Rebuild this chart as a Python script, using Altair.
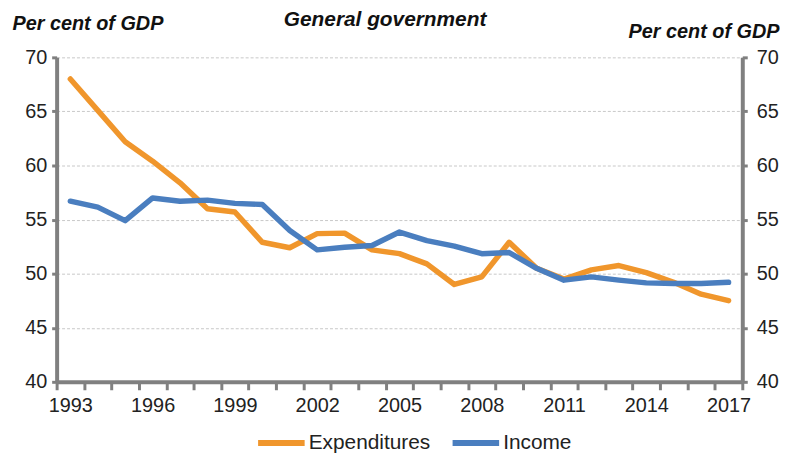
import altair as alt
import pandas as pd

years = list(range(1993, 2018))
expenditures = [68.0, 65.1, 62.2, 60.4, 58.4, 56.0, 55.7, 52.9, 52.4, 53.7, 53.75, 52.2, 51.85,
                50.9, 49.0, 49.7, 52.9, 50.5, 49.5, 50.35, 50.75, 50.1, 49.2, 48.1, 47.5]
income = [56.7, 56.15, 54.9, 57.0, 56.7, 56.8, 56.5, 56.4, 54.0, 52.2, 52.45, 52.6, 53.85,
          53.05, 52.55, 51.85, 51.95, 50.5, 49.4, 49.7, 49.4, 49.15, 49.1, 49.1, 49.2]
series_names = ["Expenditures", "Income"]
series_colors = ["#F0962C", "#4A7EBF"]
x_label_years = [1993, 1996, 1999, 2002, 2005, 2008, 2011, 2014, 2017]
x_tick_bounds = [y - 0.5 for y in years] + [years[-1] + 0.5]
y_ticks = [40, 45, 50, 55, 60, 65, 70]

df = pd.DataFrame({
    "year": years * 2,
    "series": ["Expenditures"] * len(years) + ["Income"] * len(years),
    "value": expenditures + income,
})

FONT = "Liberation Sans"
GRAY = "#808080"
xscale = alt.Scale(domain=[years[0] - 0.5, years[-1] + 0.5], nice=False, zero=False)
yscale = alt.Scale(domain=[40, 70], nice=False, zero=False)

lines = alt.Chart(df).mark_line(strokeWidth=5.5, strokeJoin="round", strokeCap="round").encode(
    x=alt.X("year:Q", scale=xscale,
            axis=alt.Axis(values=x_tick_bounds, orient="bottom", labels=False, ticks=True, tickSize=8,
                          tickWidth=3, tickColor=GRAY, domainColor=GRAY, domainWidth=4, grid=False,
                          title=None)),
    y=alt.Y("value:Q", scale=yscale,
            axis=alt.Axis(values=y_ticks, orient="left", tickSize=5, tickWidth=3, tickColor=GRAY,
                          domainColor=GRAY, domainWidth=4, labelFontSize=20, labelFont=FONT,
                          labelColor="#222222", labelPadding=5,
                          grid=True, gridColor="#c8c8c8", gridDash=[3, 2], gridWidth=1,
                          title="Per cent of GDP", titleAngle=0, titleAlign="left",
                          titleBaseline="middle", titleX=-45, titleY=-34, titleFont=FONT,
                          titleFontSize=20, titleFontStyle="italic", titleFontWeight="bold",
                          titleColor="#111111")),
    color=alt.Color("series:N", scale=alt.Scale(domain=series_names, range=series_colors),
                    legend=alt.Legend(orient="none", direction="horizontal", legendX=200, legendY=362,
                                      title=None, symbolType="stroke", symbolSize=2200,
                                      symbolStrokeWidth=6, labelFontSize=21, labelFont=FONT,
                                      labelColor="#222222", labelOffset=1, columnPadding=10)),
)

overlay = alt.Chart(df).mark_line(opacity=0).encode(
    x=alt.X("year:Q", scale=xscale,
            axis=alt.Axis(values=x_label_years, orient="bottom", format="d", ticks=False, domain=False,
                          grid=False, labelFontSize=20, labelFont=FONT, labelColor="#222222",
                          labelPadding=14, title=None)),
    y=alt.Y("value:Q", scale=yscale,
            axis=alt.Axis(values=y_ticks, orient="right", tickSize=5, tickWidth=3, tickColor=GRAY,
                          domainColor=GRAY, domainWidth=4, labelFontSize=20, labelFont=FONT,
                          labelColor="#222222", labelPadding=9, grid=False,
                          title="Per cent of GDP", titleAngle=0, titleAlign="right",
                          titleBaseline="middle", titleX=37, titleY=-26, titleFont=FONT,
                          titleFontSize=20, titleFontStyle="italic", titleFontWeight="bold",
                          titleColor="#111111")),
    detail="series:N",
)

title_txt = alt.Chart(alt.Data(values=[{"t": "General government"}])).mark_text(
    font=FONT, fontSize=21, fontStyle="italic", fontWeight="bold", color="#111111",
    align="center", baseline="middle",
).encode(x=alt.value(331), y=alt.value(-38), text="t:N")

chart = alt.layer(lines, overlay, title_txt).resolve_axis(
    x="independent", y="independent"
).properties(
    width=691, height=327,
    autosize=alt.AutoSizeParams(type="none"),
    padding={"left": 49, "top": 48, "right": 38, "bottom": 70},
).configure_view(stroke=None)

chart.save("out.html", embed_options={"renderer": "svg", "actions": False})
